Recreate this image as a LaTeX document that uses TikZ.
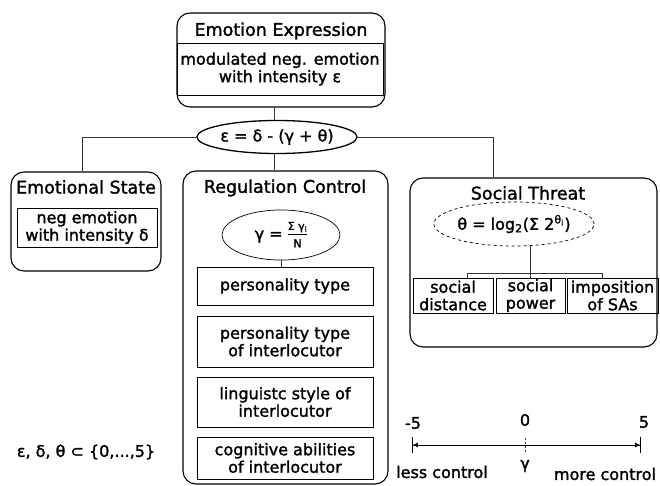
\documentclass[tikz,border=0pt]{standalone}
\usepackage{fontspec}
\setmainfont{DejaVu Sans}[FakeBold=1.6]
\usetikzlibrary{arrows.meta,shapes.geometric}
\begin{document}
\begin{tikzpicture}[x=1pt,y=-1pt,
  outerbox/.style={draw,line width=1.1pt,rounded corners=13pt,inner sep=0pt},
  innerbox/.style={draw,line width=0.9pt,align=center,inner sep=0pt,font=\fontsize{16}{17.5}\selectfont},
  titletext/.style={inner sep=0pt,font=\fontsize{17.5}{19}\selectfont},
  formula/.style={ellipse,draw,inner sep=0pt,font=\fontsize{16}{18}\selectfont},
  plain/.style={inner sep=0pt,font=\fontsize{16}{17.5}\selectfont},
  conn/.style={line width=0.6pt,black!80}]
\useasboundingbox (0,0) rectangle (660,486);

% Emotion Expression
\node[outerbox,minimum width=208pt,minimum height=94pt] (ee) at (281,60) {};
\node[titletext] (eet) at (281,31) {Emotion Expression};
\node[innerbox,minimum width=206pt,minimum height=52pt] (eei) at (280,69) {modulated neg. emotion\\with intensity ε};

% central formula
\node[formula,line width=1.3pt,minimum width=155pt,minimum height=33pt] (eps) at (277,137) {ε = δ - (γ + θ)};

% Emotional State
\node[outerbox,minimum width=150pt,minimum height=99pt] (es) at (86,221.5) {};
\node[titletext] (est) at (86,187) {Emotional State};
\node[innerbox,minimum width=140pt,minimum height=39pt] (esi) at (87,227.5) {neg emotion\\with intensity δ};

% Regulation Control
\node[outerbox,minimum width=205pt,minimum height=313pt] (rc) at (285.5,327.5) {};
\node[titletext] (rct) at (285,188) {Regulation Control};
\node[formula,line width=0.7pt,minimum width=118pt,minimum height=32pt] (gam) at (281,235)
  {γ = \begin{tabular}[c]{@{}c@{}}\fontsize{11}{12}\selectfont Σ γ\textsubscript{i}\\[-1pt]\hline\fontsize{11}{12}\selectfont N\end{tabular}};
\node[innerbox,minimum width=176pt,minimum height=38pt] (b1) at (285,286) {personality type};
\node[innerbox,minimum width=176pt,minimum height=51pt] (b2) at (285,341.5) {personality type\\of interlocutor};
\node[innerbox,minimum width=176pt,minimum height=50pt] (b3) at (285,402) {linguistc style of\\interlocutor};
\node[innerbox,minimum width=176pt,minimum height=42pt] (b4) at (285,458) {cognitive abilities\\of interlocutor};

% Social Threat
\node[outerbox,minimum width=247pt,minimum height=169pt] (st) at (533.5,262.5) {};
\node[titletext] (stt) at (528,193) {Social Threat};
\node[formula,dashed,line width=0.7pt,minimum width=148pt,minimum height=44pt] (th) at (514,224)
  {θ = log\textsubscript{2}(Σ 2\textsuperscript{θ\textsubscript{i}})};
\node[innerbox,minimum width=80pt,minimum height=35pt] (s1) at (453,295.5) {social\\distance};
\node[innerbox,minimum width=69pt,minimum height=35pt] (s2) at (530.5,295.5) {social\\power};
\node[innerbox,minimum width=91pt,minimum height=35pt] (s3) at (612.5,295.5) {imposition\\of SAs};

% connectors
\coordinate (cx) at (274,0);
\coordinate (jl) at (82,137);
\coordinate (jr) at (493,137);
\draw[conn] (ee.south -| cx) -- (eps.north -| cx);
\draw[conn] (eps.west) -- (jl) -- (jl |- es.north);
\draw[conn] (eps.east) -- (jr) -- (jr |- st.north);
\draw[conn] (eps.south -| cx) -- (rc.north -| cx);
\draw[conn] (gam.south) -- (gam.south |- b1.north);
\coordinate (tstem) at (530.5,245.5);
\coordinate (tl) at (467,273);
\coordinate (tr) at (602,273);
\draw[conn] (tstem) -- (s2.north);
\draw[conn] (tl) -- (tr);
\draw[conn] (tl) -- (tl |- s1.north);
\draw[conn] (tr) -- (tr |- s3.north);

% bottom left
\node[plain] (set) at (86,452) {ε, δ, θ ⊂ \{0,...,5\}};

% scale
\coordinate (sl) at (412,445);
\coordinate (sr) at (641,445);
\draw[line width=0.8pt,{Bar[width=16pt]Latex[length=5pt,width=5pt]}-{Latex[length=5pt,width=5pt]Bar[width=16pt]}] (sl) -- (sr);
\coordinate (tk1) at (525,438);
\coordinate (tk2) at (525,452);
\draw[conn,dash pattern=on 2pt off 2pt] (tk1) -- (tk2);
\node[plain] (m5) at (413,423) {-5};
\node[plain] (z0) at (525,420) {0};
\node[plain] (p5) at (644,422) {5};
\node[plain] (gl) at (525,466) {γ};
\node[plain] (lc) at (442,472) {less control};
\node[plain] (mc) at (605,474) {more control};
\end{tikzpicture}
\end{document}
